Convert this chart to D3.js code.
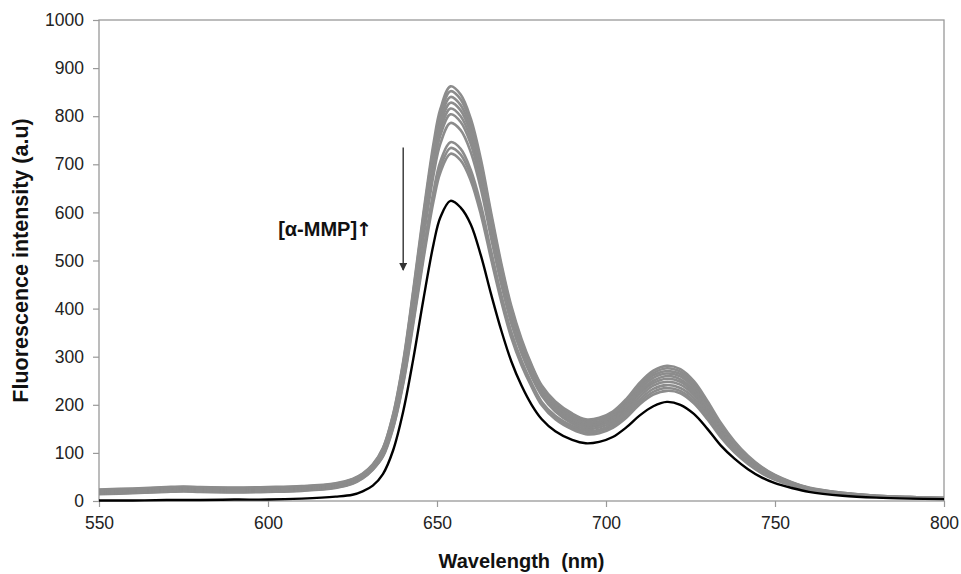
<!DOCTYPE html>
<html>
<head>
<meta charset="utf-8">
<script src="https://cdn.jsdelivr.net/npm/d3@7"></script>
<style>
  body { margin: 0; background: #fff; }
  text { font-family: "Liberation Sans", Arial, sans-serif; }
</style>
</head>
<body>
<div id="main"></div>
<script>
// wavelength grid (nm)
const wavelengths = [550,560,570,575,580,590,600,610,620,625,628,631,634,637,640,643,646,649,651,654,
  657,660,663,666,669,672,675,678,681,685,690,694,698,702,706,710,714,718,722,726,
  730,734,738,742,746,750,755,760,770,780,790,800];

// spectra while adding alpha-MMP (gray), top one first
const gray1 = [24,26,29,30,29,28,29,31,37,46,57,76,110,180,290,440,600,745,815,862,
  845,795,710,600,495,405,337,283,240,207,182,170,173,186,212,246,271,281,274,249,
  208,162,124,94,71,54,39,28,17,11,8,6];
const gray2 = [23,25,28,29,28,27,28,30,36,45,56,75,109,178,287,435,593,736,805,852,
  835,785,701,593,489,400,333,280,237,204,179,167,170,183,208,242,266,276,269,245,
  204,159,122,92,70,53,38,27,17,11,8,6];
const gray3 = [22,24,27,28,27,26,27,29,35,44,55,74,107,175,282,429,584,726,794,840,
  823,774,692,584,482,394,328,276,234,200,175,164,166,179,204,237,261,270,264,240,
  200,156,119,90,68,52,38,27,16,11,8,6];
const gray4 = [21,23,26,27,26,25,26,28,34,43,54,73,106,173,279,423,577,716,783,828,
  812,764,682,577,476,389,324,272,231,197,172,160,163,176,200,232,256,265,259,235,
  196,153,117,89,67,51,37,26,16,10,8,6];
const gray5 = [20,22,25,26,25,24,25,27,33,42,53,72,104,170,275,417,568,706,772,816,
  800,753,672,568,469,384,319,268,227,193,168,157,160,172,196,227,250,260,253,230,
  192,150,115,87,66,50,36,26,16,10,7,6];
const gray6 = [19,21,24,25,24,23,24,26,32,41,52,71,103,168,271,411,560,695,760,804,
  788,742,662,560,462,378,314,264,224,190,165,154,157,168,192,223,245,254,248,225,
  188,147,112,85,64,49,35,25,15,10,7,5];
const gray7 = [18,20,23,24,23,22,23,25,31,40,51,70,100,164,264,401,547,679,743,786,
  771,725,648,547,451,369,307,258,219,186,161,150,153,164,187,217,240,248,242,220,
  184,143,110,83,63,48,34,25,15,10,7,5];
const gray8 = [16,18,21,22,21,20,21,23,29,38,49,67,95,156,251,381,520,645,706,746,
  732,688,615,520,429,351,292,245,206,177,156,146,148,160,182,211,233,241,235,214,
  178,139,106,81,61,46,33,24,15,9,7,5];
const gray9 = [15,17,20,21,20,19,20,22,28,37,48,66,94,153,247,375,511,635,694,734,
  720,677,605,511,422,345,287,241,202,174,153,142,145,156,177,206,227,235,229,208,
  174,136,104,79,59,45,33,23,14,9,7,5];
const gray10 = [14,16,19,20,19,18,19,21,27,36,47,65,92,151,243,369,503,624,683,722,
  708,666,595,503,415,339,282,237,199,170,149,139,141,152,173,201,221,229,224,203,
  170,132,101,77,58,44,32,23,14,9,7,5];

// final spectrum (black)
const blackSeries = [1,1,2,2,2,3,3,5,9,13,20,32,56,105,186,296,420,535,590,624,
  610,575,510,430,355,290,240,200,170,145,127,120,123,133,153,178,197,206,200,181,
  150,115,88,66,49,37,27,19,11,7,5,4];

const xTicks = [550,600,650,700,750,800];
const yTicks = [0,100,200,300,400,500,600,700,800,900,1000];

// annotation: arrow from / to (nm, a.u) and label anchor
const arrowFrom = [640, 735];
const arrowTo = [640, 480];
const labelAt = [603, 550];
const labelText = "[α-MMP]";
const labelArrow = "↑";

class Spectra {
  constructor(config) {
    this.config = config;
    this.svg = null;
    this.margins = null;
    this.xScale = null;
    this.yScale = null;

    this.createSvg();
    this.createMargins();
  }

  createSvg() {
    this.svg = d3.select(this.config.div)
      .append('svg')
      .attr('width', this.config.width + this.config.left + this.config.right)
      .attr('height', this.config.height + this.config.top + this.config.bottom);
  }

  createMargins() {
    this.margins = this.svg
      .append('g')
      .attr('transform', `translate(${this.config.left},${this.config.top})`);
  }

  createScales() {
    this.xScale = d3.scaleLinear().domain([550, 800]).range([0, this.config.width]);
    this.yScale = d3.scaleLinear().domain([0, 1000]).range([this.config.height, 0]);
  }

  renderAxes() {
    let xAxis = d3.axisBottom(this.xScale).tickValues(xTicks).tickFormat(d3.format('d'))
      .tickSize(6).tickSizeOuter(0).tickPadding(10);
    let yAxis = d3.axisLeft(this.yScale).tickValues(yTicks).tickFormat(d3.format('d'))
      .tickSize(6).tickSizeOuter(0).tickPadding(9);

    let gx = this.margins.append('g')
      .attr('transform', `translate(0,${this.config.height})`)
      .call(xAxis);
    let gy = this.margins.append('g').call(yAxis);

    [gx, gy].forEach(g => {
      g.select('.domain').remove();
      g.selectAll('line').attr('stroke', '#999').attr('stroke-width', 1.2);
      g.selectAll('text')
        .attr('fill', '#222')
        .style('font-size', '17.5px');
    });

    // plot frame
    this.margins.append('rect')
      .attr('x', 0)
      .attr('y', 0)
      .attr('width', this.config.width)
      .attr('height', this.config.height)
      .attr('fill', 'none')
      .attr('stroke', '#999')
      .attr('stroke-width', 1.3);
  }

  renderLines() {
    let line = d3.line()
      .x((d, i) => this.xScale(wavelengths[i]))
      .y(d => this.yScale(d))
      .curve(d3.curveCatmullRom.alpha(0.5));

    let grays = [gray10, gray9, gray8, gray7, gray6, gray5, gray4, gray3, gray2, gray1];

    this.margins.selectAll('.gray')
      .data(grays)
      .join('path')
      .attr('class', 'gray')
      .attr('d', d => line(d))
      .attr('fill', 'none')
      .attr('stroke', '#8c8c8c')
      .attr('stroke-width', 2.6);

    this.margins.append('path')
      .attr('d', line(blackSeries))
      .attr('fill', 'none')
      .attr('stroke', '#000')
      .attr('stroke-width', 2.4);
  }

  renderAnnotation() {
    let defs = this.svg.append('defs');
    defs.append('marker')
      .attr('id', 'head')
      .attr('viewBox', '0 0 10 10')
      .attr('refX', 9)
      .attr('refY', 5)
      .attr('markerWidth', 6)
      .attr('markerHeight', 6)
      .attr('markerUnits', 'strokeWidth')
      .attr('orient', 'auto')
      .append('path')
      .attr('d', 'M0,0 L10,5 L0,10 Z')
      .attr('fill', '#333');

    this.margins.append('line')
      .attr('x1', this.xScale(arrowFrom[0]))
      .attr('y1', this.yScale(arrowFrom[1]))
      .attr('x2', this.xScale(arrowTo[0]))
      .attr('y2', this.yScale(arrowTo[1]))
      .attr('stroke', '#333')
      .attr('stroke-width', 1.4)
      .attr('marker-end', 'url(#head)');

    let t = this.margins.append('text')
      .attr('x', this.xScale(labelAt[0]))
      .attr('y', this.yScale(labelAt[1]))
      .style('font-size', '20px')
      .style('font-weight', 'bold')
      .attr('fill', '#111');
    t.append('tspan').text(labelText);
    t.append('tspan')
      .attr('dx', -1)
      .style('font-family', '"DejaVu Sans", sans-serif')
      .style('font-size', '19px')
      .style('font-weight', 'bold')
      .text(labelArrow);
  }

  renderTitles() {
    this.margins.append('text')
      .attr('x', this.config.width / 2)
      .attr('y', this.config.height + 67)
      .attr('text-anchor', 'middle')
      .style('font-size', '20px')
      .style('font-weight', 'bold')
      .style('white-space', 'pre')
      .attr('fill', '#111')
      .text('Wavelength  (nm)');

    this.margins.append('text')
      .attr('transform', `translate(${-71},${this.config.height / 2}) rotate(-90)`)
      .attr('text-anchor', 'middle')
      .style('font-size', '21.5px')
      .style('font-weight', 'bold')
      .attr('fill', '#111')
      .text('Fluorescence intensity (a.u)');
  }
}

function main() {
  let c = {div: '#main', width: 845, height: 481, top: 20, left: 99, bottom: 73, right: 17};

  let chart = new Spectra(c);
  chart.createScales();
  chart.renderAxes();
  chart.renderLines();
  chart.renderAnnotation();
  chart.renderTitles();
}

main();
</script>
</body>
</html>
